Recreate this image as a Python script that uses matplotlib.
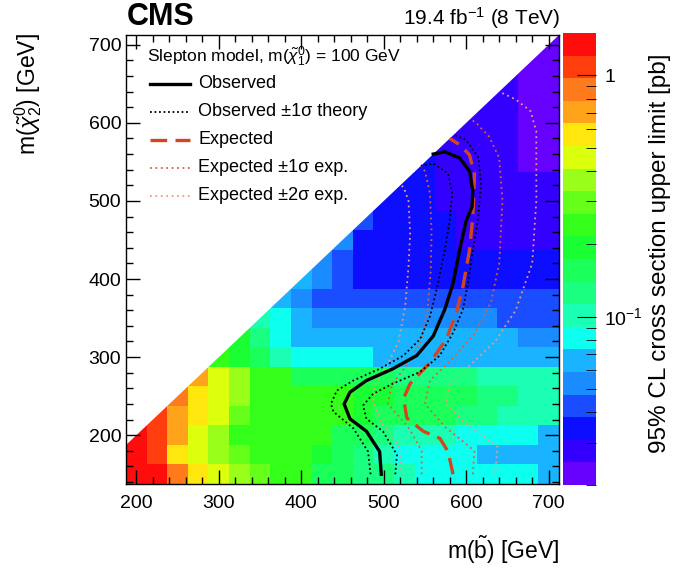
import numpy as np
import matplotlib
matplotlib.use("Agg")
import matplotlib.pyplot as plt
from matplotlib.colors import ListedColormap, LogNorm
from matplotlib.patches import Polygon
from matplotlib.lines import Line2D
from matplotlib.ticker import MultipleLocator, FixedLocator, FixedFormatter, NullFormatter

plt.rcParams['font.family'] = ['Liberation Sans', 'DejaVu Sans']
plt.rcParams['mathtext.fontset'] = 'custom'
plt.rcParams['mathtext.rm'] = 'Liberation Sans'
plt.rcParams['mathtext.it'] = 'Liberation Sans:italic'

# bin centres [GeV]
m_sbottom = np.arange(200, 701, 25)
m_chi2 = np.arange(150, 701, 25)

# 95% CL upper limit [pb], one row per m(chi2) bin (bottom -> top), NaN above diagonal
n = np.nan
limit = [
    [1.35, 1.35, 0.88, 0.57, 0.46, 0.37, 0.30, 0.24, 0.24, 0.155, 0.155, 0.125, 0.125, 0.10, 0.081, 0.081, 0.081, 0.081, 0.081, 0.081, 0.066],
    [1.35, 1.10, 0.57, 0.46, 0.37, 0.30, 0.24, 0.24, 0.24, 0.19, 0.155, 0.125, 0.10, 0.081, 0.081, 0.081, 0.081, 0.066, 0.066, 0.066, 0.066],
    [1.35, 1.10, 0.70, 0.46, 0.37, 0.24, 0.24, 0.24, 0.24, 0.24, 0.155, 0.155, 0.125, 0.10, 0.10, 0.10, 0.081, 0.081, 0.081, 0.081, 0.066],
    [n, 1.10, 0.70, 0.57, 0.46, 0.30, 0.24, 0.24, 0.24, 0.24, 0.24, 0.19, 0.155, 0.155, 0.155, 0.155, 0.125, 0.125, 0.10, 0.10, 0.10],
    [n, n, 0.88, 0.57, 0.46, 0.37, 0.24, 0.24, 0.24, 0.24, 0.24, 0.19, 0.19, 0.155, 0.155, 0.155, 0.155, 0.125, 0.125, 0.10, 0.10],
    [n, n, n, 0.70, 0.46, 0.37, 0.24, 0.24, 0.155, 0.155, 0.155, 0.155, 0.155, 0.125, 0.125, 0.125, 0.125, 0.10, 0.10, 0.10, 0.10],
    [n, n, n, n, 0.24, 0.19, 0.155, 0.10, 0.081, 0.081, 0.081, 0.081, 0.066, 0.066, 0.066, 0.066, 0.066, 0.066, 0.066, 0.066, 0.066],
    [n, n, n, n, n, 0.19, 0.125, 0.081, 0.066, 0.066, 0.066, 0.066, 0.066, 0.066, 0.066, 0.066, 0.066, 0.066, 0.066, 0.053, 0.053],
    [n, n, n, n, n, n, 0.10, 0.081, 0.066, 0.053, 0.053, 0.053, 0.053, 0.053, 0.053, 0.053, 0.053, 0.053, 0.043, 0.043, 0.043],
    [n, n, n, n, n, n, n, 0.066, 0.053, 0.043, 0.043, 0.043, 0.043, 0.043, 0.043, 0.043, 0.043, 0.043, 0.043, 0.043, 0.043],
    [n, n, n, n, n, n, n, n, 0.066, 0.053, 0.043, 0.034, 0.034, 0.034, 0.034, 0.034, 0.034, 0.034, 0.034, 0.034, 0.034],
    [n, n, n, n, n, n, n, n, n, 0.053, 0.043, 0.034, 0.034, 0.034, 0.034, 0.034, 0.034, 0.034, 0.034, 0.034, 0.034],
    [n, n, n, n, n, n, n, n, n, n, 0.053, 0.034, 0.034, 0.034, 0.034, 0.034, 0.028, 0.028, 0.028, 0.028, 0.028],
    [n, n, n, n, n, n, n, n, n, n, n, 0.043, 0.034, 0.034, 0.034, 0.034, 0.028, 0.028, 0.028, 0.028, 0.028],
    [n, n, n, n, n, n, n, n, n, n, n, n, 0.034, 0.034, 0.034, 0.028, 0.028, 0.028, 0.028, 0.028, 0.028],
    [n, n, n, n, n, n, n, n, n, n, n, n, n, 0.034, 0.034, 0.028, 0.028, 0.028, 0.028, 0.028, 0.028],
    [n, n, n, n, n, n, n, n, n, n, n, n, n, n, 0.034, 0.028, 0.028, 0.028, 0.028, 0.022, 0.022],
    [n, n, n, n, n, n, n, n, n, n, n, n, n, n, n, 0.028, 0.028, 0.028, 0.028, 0.022, 0.022],
    [n, n, n, n, n, n, n, n, n, n, n, n, n, n, n, n, 0.028, 0.028, 0.028, 0.022, 0.022],
    [n, n, n, n, n, n, n, n, n, n, n, n, n, n, n, n, n, 0.028, 0.028, 0.022, 0.022],
    [n, n, n, n, n, n, n, n, n, n, n, n, n, n, n, n, n, n, 0.028, 0.022, 0.022],
    [n, n, n, n, n, n, n, n, n, n, n, n, n, n, n, n, n, n, n, 0.022, 0.022],
    [n, n, n, n, n, n, n, n, n, n, n, n, n, n, n, n, n, n, n, n, 0.022],
]

# exclusion contours, (m_sbottom, m_chi2) in GeV
obs_x = [497, 495, 479, 459, 452, 459, 479, 511, 540, 560, 574, 584, 592, 600, 607, 608, 604, 592, 574, 560]
obs_y = [150, 179, 205, 221, 240, 255, 270, 285, 302, 327, 361, 394, 437, 475, 492, 513, 538, 555, 563, 560]
obs_m1_x = [484, 481, 463, 439, 436, 443, 463, 495, 524, 544, 556, 564, 574, 580, 583, 578, 560, 545]
obs_m1_y = [150, 179, 209, 230, 240, 257, 270, 285, 302, 323, 352, 386, 437, 475, 510, 535, 548, 545]
obs_p1_x = [514, 516, 499, 479, 475, 487, 511, 544, 568, 584, 596, 602, 608, 614, 618, 615, 600, 585]
obs_p1_y = [150, 175, 205, 221, 238, 253, 266, 281, 302, 331, 361, 394, 437, 475, 520, 555, 578, 585]
exp_x = [584, 578, 568, 548, 528, 524, 532, 556, 576, 588, 596, 604, 608, 610, 604, 592, 580]
exp_y = [150, 179, 196, 205, 222, 247, 266, 293, 323, 357, 390, 437, 479, 534, 559, 572, 580]
exp_m1_x = [546, 546, 530, 505, 510, 528, 545, 553, 557, 558, 556, 550, 545]
exp_m1_y = [150, 180, 210, 240, 265, 290, 320, 360, 410, 460, 510, 538, 545]
exp_p1_x = [608, 610, 575, 550, 556, 585, 610, 630, 640, 644, 640, 628, 612, 605]
exp_p1_y = [150, 180, 210, 240, 270, 300, 330, 370, 420, 500, 555, 582, 600, 605]
exp_m2_x = [522, 518, 499, 487, 489, 504, 518, 526, 530, 532, 530, 524, 520]
exp_m2_y = [150, 188, 213, 243, 264, 289, 320, 365, 416, 458, 500, 518, 520]
exp_p2_x = [635, 638, 600, 575, 580, 605, 635, 660, 680, 685, 685, 678, 660, 640]
exp_p2_y = [150, 185, 215, 240, 265, 290, 320, 360, 420, 500, 589, 615, 630, 640]

# ROOT-like rainbow palette, 20 bands (low -> high)
palette = ['#6600ff', '#3300ff', '#0d0dff', '#1a4dff', '#1a8cff', '#1ab3ff', '#0dfff0', '#1affb3',
           '#1aff80', '#1aff5a', '#1aff33', '#33ff1a', '#66ff1a', '#99ff1a', '#dcff0d', '#ffe60d',
           '#ffa31a', '#ff7a1a', '#ff3d0d', '#ff0d0d']
cmap = ListedColormap(palette)
norm = LogNorm(vmin=0.02, vmax=1.5)

fig = plt.figure(figsize=(6.83, 5.68), dpi=100)
ax = fig.add_axes([126 / 683, 1 - 484 / 568, 433 / 683, 449 / 568])
cax = fig.add_axes([563 / 683, 1 - 485 / 568, 33 / 683, 452 / 568])

xe = np.append(m_sbottom - 12.5, m_sbottom[-1] + 12.5)
ye = np.append(m_chi2 - 12.5, m_chi2[-1] + 12.5)
z = np.ma.masked_invalid(np.array(limit))
mesh = ax.pcolormesh(xe, ye, z, cmap=cmap, norm=norm, shading='flat')
clip = Polygon([(xe[0], ye[0]), (xe[-1], ye[0]), (xe[-1], ye[-1]), (xe[0], xe[0])],
               closed=True, transform=ax.transData)
mesh.set_clip_path(clip)

c_exp = '#d2461e'
c_e1 = '#d9603b'
c_e2 = '#ef9a82'
ax.plot(exp_p2_x, exp_p2_y, color=c_e2, ls=(0, (1, 2)), lw=1.3)
ax.plot(exp_m2_x, exp_m2_y, color=c_e2, ls=(0, (1, 2)), lw=1.3)
ax.plot(exp_p1_x, exp_p1_y, color=c_e1, ls=(0, (1, 2)), lw=1.3)
ax.plot(exp_m1_x, exp_m1_y, color=c_e1, ls=(0, (1, 2)), lw=1.3)
ax.plot(exp_x, exp_y, color=c_exp, ls=(0, (5, 2.5)), lw=2.4)
ax.plot(obs_m1_x, obs_m1_y, color='black', ls=(0, (1, 1.5)), lw=1.3)
ax.plot(obs_p1_x, obs_p1_y, color='black', ls=(0, (1, 1.5)), lw=1.3)
ax.plot(obs_x, obs_y, color='black', lw=2.4)

ax.set_xlim(xe[0], xe[-1])
ax.set_ylim(ye[0], ye[-1])
ax.xaxis.set_major_locator(MultipleLocator(100))
ax.xaxis.set_minor_locator(MultipleLocator(20))
ax.yaxis.set_major_locator(MultipleLocator(100))
ax.yaxis.set_minor_locator(MultipleLocator(20))
ax.tick_params(which='both', direction='in', top=True, right=True, labelsize=14, width=1)
ax.tick_params(which='major', length=10)
ax.tick_params(which='minor', length=5)
ax.tick_params(axis='x', pad=8)
for s in ax.spines.values():
    s.set_linewidth(1)

# legend (drawn by hand like the ROOT box)
ax.text((147 - 126) / 433, (484 - 57) / 449,
        r'Slepton model, m($\tilde{\chi}^{0}_{1}$) = 100 GeV',
        transform=ax.transAxes, fontsize=12.5, va='center', ha='left')
entries = [
    ('Observed', dict(color='black', lw=2.4)),
    ('Observed ±1σ theory', dict(color='black', ls=(0, (1, 1.5)), lw=1.3)),
    ('Expected', dict(color=c_exp, ls=(0, (5, 2.5)), lw=2.4)),
    ('Expected ±1σ exp.', dict(color=c_e1, ls=(0, (1, 2)), lw=1.3)),
    ('Expected ±2σ exp.', dict(color=c_e2, ls=(0, (1, 2)), lw=1.3)),
]
for i, (label, style) in enumerate(entries):
    py = 84 + 28 * i
    yf = (484 - py) / 449
    ax.add_line(Line2D([(150 - 126) / 433, (190 - 126) / 433], [yf, yf],
                       transform=ax.transAxes, **style))
    ax.text((198 - 126) / 433, yf, label, transform=ax.transAxes,
            fontsize=13, va='center', ha='left')

# colour bar
cb = fig.colorbar(mesh, cax=cax)
cb.outline.set_visible(False)
cax.yaxis.set_major_locator(FixedLocator([0.1, 1]))
cax.yaxis.set_major_formatter(FixedFormatter(['10$^{-1}$', '1']))
cax.yaxis.set_minor_locator(FixedLocator([0.02, 0.03, 0.04, 0.05, 0.06, 0.07, 0.08, 0.09,
                                          0.2, 0.3, 0.4, 0.5, 0.6, 0.7, 0.8, 0.9]))
cax.yaxis.set_minor_formatter(NullFormatter())
cax.tick_params(which='both', direction='in', labelsize=14, pad=6)
cax.tick_params(which='major', length=14)
cax.tick_params(which='minor', length=7)

fig.text(127 / 683, 1 - 17 / 568, 'CMS', fontsize=22, fontweight='bold', ha='left', va='center')
fig.text(560 / 683, 1 - 18 / 568, r'19.4 fb$^{-1}$ (8 TeV)', fontsize=15, ha='right', va='center')
fig.text(559 / 683, 1 - 550 / 568, r'm($\tilde{\mathrm{b}}$) [GeV]', fontsize=16.5, ha='right', va='center')
fig.text(28 / 683, 1 - 33 / 568, r'm($\tilde{\chi}^{0}_{2}$) [GeV]', fontsize=16.5, rotation=90,
         ha='center', va='top')
fig.text(660 / 683, 1 - 253 / 568, '95% CL cross section upper limit [pb]', fontsize=17.5,
         rotation=90, ha='center', va='center')

fig.savefig('out.png', dpi=100)
